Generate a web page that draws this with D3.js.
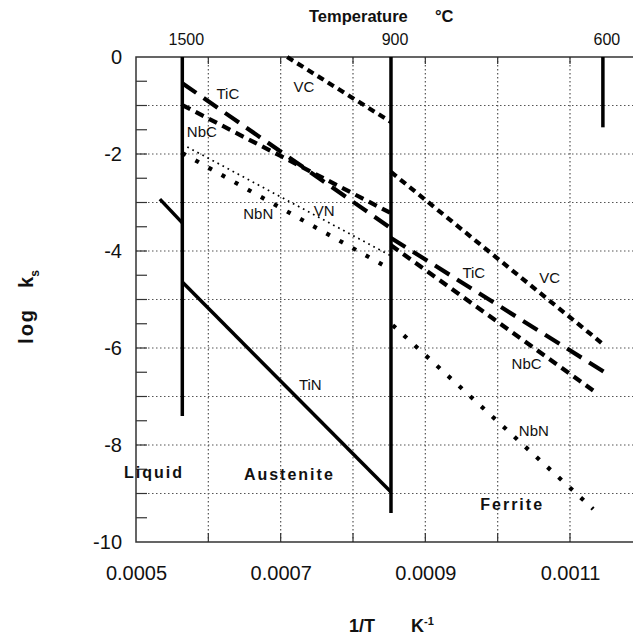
<!DOCTYPE html>
<html>
<head>
<meta charset="utf-8">
<script src="https://cdn.jsdelivr.net/npm/d3@7/dist/d3.min.js"></script>
<style>
  body { margin: 0; background: #fff; }
  svg { font-family: "Liberation Sans", Arial, Helvetica, sans-serif; }
</style>
</head>
<body>
<div id="chart"></div>
<script>
// Data
// ==============================
// each line is drawn between two end points (1/T in K^-1, log ks)
var lineCompound = ["TiN", "TiN", "TiC", "NbC", "VC", "NbN", "VN", "TiC", "NbC", "VC", "NbN"];
var lineX1 = [0.000533, 0.000564, 0.000564, 0.000564, 0.000709, 0.000564, 0.000564, 0.0008525, 0.0008525, 0.0008525, 0.000855];
var lineY1 = [-2.93, -4.64, -0.54, -0.99, 0, -1.98, -1.80, -3.73, -3.88, -2.37, -5.53];
var lineX2 = [0.000564, 0.0008525, 0.0008525, 0.0008525, 0.0008525, 0.0008525, 0.0008525, 0.001148, 0.001137, 0.001144, 0.001132];
var lineY2 = [-3.42, -8.97, -3.53, -3.22, -1.34, -4.38, -4.10, -6.50, -6.93, -5.90, -9.32];

// temperature markers (deg C) and how far down the solid line goes
var tempTicks = [1500, 900, 600];
var tempLineBottom = [-7.4, -9.4, -1.45];

// axis ticks
var xTickLabels = [0.0005, 0.0007, 0.0009, 0.0011];
var xGrid = [0.0006, 0.0007, 0.0008, 0.0009, 0.001, 0.0011];
var yTickLabels = [0, -2, -4, -6, -8, -10];
var yGrid = [-1, -2, -3, -4, -5, -6, -7, -8, -9];

// labels next to the lines
var labelText = ["TiC", "NbC", "VC", "NbN", "VN", "TiN", "TiC", "VC", "NbC", "NbN"];
var labelX = [0.000627, 0.000591, 0.000732, 0.000669, 0.00076, 0.000741, 0.000967, 0.001072, 0.00104, 0.00105];
var labelY = [-0.86, -1.64, -0.73, -3.35, -3.27, -6.86, -4.55, -4.67, -6.44, -7.82];

// phase regions
var regionText = ["Liquid", "Austenite", "Ferrite"];
var regionX = [0.000525, 0.000712, 0.00102];
var regionY = [-8.68, -8.72, -9.34];

function makeChart() {

  var svgWidth = 633;
  var svgHeight = 637;

  var margin = {
    top: 57,
    right: 0,
    bottom: 95,
    left: 136
  };

  var height = svgHeight - margin.top - margin.bottom;
  var width = svgWidth - margin.left + 10; // frame runs off the right edge

  var svg = d3.select("#chart")
    .append("svg")
    .attr("width", svgWidth)
    .attr("height", svgHeight);

  var chartGroup = svg.append("g")
    .attr("transform", `translate(${margin.left}, ${margin.top})`);

  // Scales
  // ==============================
  var xScale = d3.scaleLinear()
    .domain([0.0005, 0.0011])
    .range([0, 434]);

  var yScale = d3.scaleLinear()
    .domain([-10, 0])
    .range([height, 0]);

  // line styles per compound
  var styles = {
    TiN: { w: 3.5, dash: null },
    TiC: { w: 4.2, dash: "17,9" },
    NbC: { w: 4.2, dash: "9,6" },
    VC:  { w: 4.2, dash: "7,5" },
    NbN: { w: 4.2, dash: "4,11" },
    VN:  { w: 1.7, dash: "1.7,4" }
  };

  // Grid
  // ==============================
  chartGroup.selectAll(".vgrid")
    .data(xGrid)
    .enter()
    .append("line")
    .attr("x1", d => xScale(d))
    .attr("x2", d => xScale(d))
    .attr("y1", 0)
    .attr("y2", height)
    .attr("stroke", "#555")
    .attr("stroke-width", 1.2)
    .attr("stroke-dasharray", "1.5,2.5");

  chartGroup.selectAll(".hgrid")
    .data(yGrid)
    .enter()
    .append("line")
    .attr("x1", 0)
    .attr("x2", width)
    .attr("y1", d => yScale(d))
    .attr("y2", d => yScale(d))
    .attr("stroke", "#555")
    .attr("stroke-width", 1.2)
    .attr("stroke-dasharray", "1.5,2.5");

  // Axes
  // ==============================
  var leftAxis = d3.axisLeft(yScale)
    .tickValues(yTickLabels)
    .tickSize(0)
    .tickPadding(14)
    .tickFormat(d => String(d));

  var bottomAxis = d3.axisBottom(xScale)
    .tickValues(xTickLabels)
    .tickSize(0)
    .tickPadding(24)
    .tickFormat(d3.format(".4f"));

  var yAxisG = chartGroup.append("g").call(leftAxis);
  var xAxisG = chartGroup.append("g")
    .attr("transform", `translate(0, ${height})`)
    .call(bottomAxis);

  [yAxisG, xAxisG].forEach(function (g) {
    g.select(".domain").remove();
    g.selectAll("text")
      .attr("font-size", "20px")
      .attr("font-family", "'Liberation Sans', Arial, sans-serif")
      .attr("fill", "#111");
  });

  // inward minor ticks on the left, every half unit
  chartGroup.selectAll(".ytick")
    .data(d3.range(-9.5, 0, 0.5))
    .enter()
    .append("line")
    .attr("x1", 0)
    .attr("x2", 11)
    .attr("y1", d => yScale(d))
    .attr("y2", d => yScale(d))
    .attr("stroke", "#333")
    .attr("stroke-width", 1.2);

  // ticks on the bottom and top
  chartGroup.selectAll(".xtickb")
    .data(xGrid)
    .enter()
    .append("line")
    .attr("x1", d => xScale(d))
    .attr("x2", d => xScale(d))
    .attr("y1", height)
    .attr("y2", height - 9)
    .attr("stroke", "#333")
    .attr("stroke-width", 1.2);

  chartGroup.selectAll(".xtickt")
    .data(xGrid)
    .enter()
    .append("line")
    .attr("x1", d => xScale(d))
    .attr("x2", d => xScale(d))
    .attr("y1", 0)
    .attr("y2", 7)
    .attr("stroke", "#333")
    .attr("stroke-width", 1.2);

  // frame (right side is off canvas)
  chartGroup.append("path")
    .attr("d", `M${width},0 H0 V${height} H${width}`)
    .attr("fill", "none")
    .attr("stroke", "#333")
    .attr("stroke-width", 1.5);

  // Temperature markers
  // ==============================
  var tempX = d => xScale(1 / (d + 273));

  chartGroup.selectAll(".templine")
    .data(tempTicks)
    .enter()
    .append("line")
    .attr("x1", d => tempX(d))
    .attr("x2", d => tempX(d))
    .attr("y1", yScale(0))
    .attr("y2", (d, i) => yScale(tempLineBottom[i]))
    .attr("stroke", "#000")
    .attr("stroke-width", 3.5);

  chartGroup.selectAll(".templabel")
    .data(tempTicks)
    .enter()
    .append("text")
    .attr("x", d => tempX(d) + 4)
    .attr("y", -12)
    .attr("text-anchor", "middle")
    .attr("font-size", "16px")
    .attr("fill", "#111")
    .text(d => d);

  // Solubility lines
  // ==============================
  chartGroup.selectAll(".sline")
    .data(lineCompound)
    .enter()
    .append("line")
    .attr("x1", (d, i) => xScale(lineX1[i]))
    .attr("y1", (d, i) => yScale(lineY1[i]))
    .attr("x2", (d, i) => xScale(lineX2[i]))
    .attr("y2", (d, i) => yScale(lineY2[i]))
    .attr("stroke", "#000")
    .attr("stroke-width", d => styles[d].w)
    .attr("stroke-dasharray", d => styles[d].dash);

  // Line labels
  chartGroup.selectAll(".llabel")
    .data(labelText)
    .enter()
    .append("text")
    .attr("x", (d, i) => xScale(labelX[i]))
    .attr("y", (d, i) => yScale(labelY[i]))
    .attr("text-anchor", "middle")
    .attr("font-size", "15px")
    .attr("fill", "#111")
    .text(d => d);

  // Region labels
  chartGroup.selectAll(".rlabel")
    .data(regionText)
    .enter()
    .append("text")
    .attr("x", (d, i) => xScale(regionX[i]))
    .attr("y", (d, i) => yScale(regionY[i]))
    .attr("text-anchor", "middle")
    .attr("font-size", "16px")
    .attr("font-weight", "bold")
    .attr("letter-spacing", "2px")
    .attr("fill", "#111")
    .text(d => d);

  // Titles
  // ==============================
  var topTitle = svg.append("text")
    .attr("y", 22)
    .attr("font-size", "16.5px")
    .attr("font-weight", "bold")
    .attr("fill", "#111");
  topTitle.append("tspan").attr("x", 309).text("Temperature");
  topTitle.append("tspan").attr("x", 435).text("\u00b0C");

  var xTitle = svg.append("text")
    .attr("y", 632)
    .attr("font-size", "18px")
    .attr("font-weight", "bold")
    .attr("fill", "#111");
  xTitle.append("tspan").attr("x", 349).text("1/T");
  xTitle.append("tspan").attr("x", 411).text("K");
  xTitle.append("tspan").attr("dy", -7).attr("font-size", "11px").text("-1");

  var yTitle = svg.append("text")
    .attr("transform", "translate(33, 307) rotate(-90)")
    .attr("text-anchor", "middle")
    .attr("font-size", "20px")
    .attr("font-weight", "bold")
    .attr("fill", "#111");
  yTitle.append("tspan").attr("letter-spacing", "2px").text("log");
  yTitle.append("tspan").attr("dx", 20).text("k");
  yTitle.append("tspan").attr("dy", 6).attr("font-size", "12px").text("s");
}

makeChart();
</script>
</body>
</html>
